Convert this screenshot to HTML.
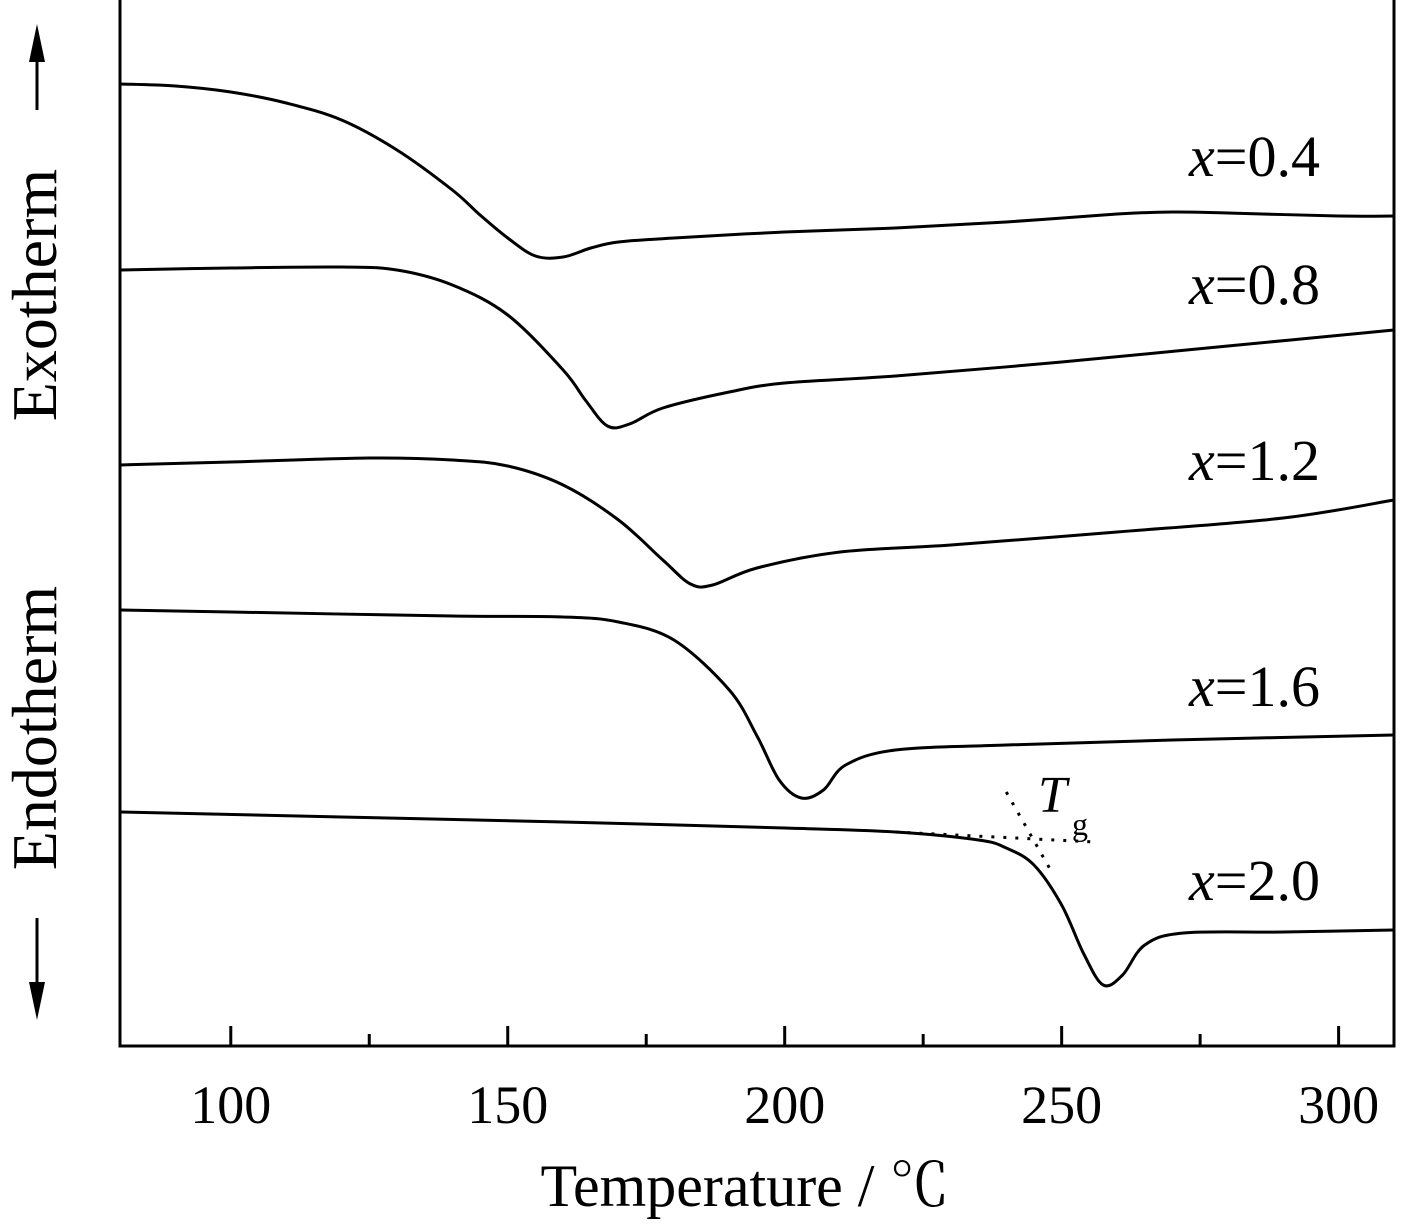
<!DOCTYPE html>
<html><head><meta charset="utf-8"><style>
body{margin:0;background:#fff}
svg text{font-family:"Liberation Serif","Noto Serif CJK SC",serif;fill:#000}
</style></head><body>
<svg id="chart" width="1412" height="1226" viewBox="0 0 1412 1226" xmlns="http://www.w3.org/2000/svg">
<rect x="120" y="-2" width="1274" height="1048" fill="none" stroke="#000" stroke-width="3"/>
<g id="ticks"></g>
<g id="curves"></g>
<g id="labels"></g>
<text x="745" y="1206" font-size="60" text-anchor="middle">Temperature / ℃</text>
<text transform="translate(56,295) rotate(-90)" font-size="64" text-anchor="middle">Exotherm</text>
<text transform="translate(56,728) rotate(-90)" font-size="64" text-anchor="middle">Endotherm</text>
<g><line x1="37" y1="110" x2="37" y2="50" stroke="#000" stroke-width="3"/><polygon points="37,24 29,62 45,62" fill="#000"/></g>
<g><line x1="37" y1="918" x2="37" y2="985" stroke="#000" stroke-width="3"/><polygon points="37,1020 29,982 45,982" fill="#000"/></g>
<g>
<text x="1038" y="812" font-size="52" font-style="italic">T</text>
<text x="1072" y="835" font-size="32">g</text>
</g>
</svg>
<script>
const tempTicks=[100,150,200,250,300];
const minorTicks=[125,175,225,275];
const seriesNames=["x=0.4","x=0.8","x=1.2","x=1.6","x=2.0"];
const labelT=[273,273,273,273,273];
const labelY=[87,74.2,56.6,34,14.6];
const t04=[80,90,100,110,120,130,140,145,150,155,160,165,170,180,200,220,240,260,270,280,300,310];
const v04=[96.2,96,95.4,94.3,92.6,89.6,85.6,83.1,80.8,79,78.9,79.8,80.4,80.8,81.4,81.8,82.4,83.2,83.4,83.3,83,83];
const t08=[80,100,120,130,140,150,160,164,168,172,178,190,200,220,250,280,310];
const v08=[77.6,77.8,77.9,77.6,76.1,73.1,67.6,64.6,62,62.2,63.8,65.4,66.3,67,68.4,70,71.6];
const t12=[80,100,125,140,150,160,170,178,183,187,195,210,230,260,290,310];
const v12=[58.1,58.4,58.8,58.6,58,56.1,52.6,48.6,46.2,46.1,47.8,49.4,50.1,51.4,52.8,54.6];
const t16=[80,100,140,160,170,180,190,195,199,203,207,211,220,240,270,310];
const v16=[43.6,43.4,43,42.9,42.4,40.6,35.6,31,26.6,24.8,25.6,28.1,29.6,30.1,30.6,31.1];
const t20=[80,120,160,200,220,235,240,245,250,254,257.5,261,265,272,290,310];
const v20=[23.4,22.9,22.4,21.8,21.4,20.6,19.8,18.1,14.1,9.2,6.1,7.1,10.1,11.3,11.4,11.6];
const tgLineA_T=[220,256];const tgLineA_V=[21.4,20.4];
const tgLineB_T=[240,248];const tgLineB_V=[25.4,17.6];
const allT=[t04,t08,t12,t16,t20],allV=[v04,v08,v12,v16,v20];
const xs=t=>120+(t-80)*(1274/230);
const ys=v=>1046-v*10;
const NS="http://www.w3.org/2000/svg";
function mk(tag,parent,attrs){const e=document.createElementNS(NS,tag);for(const k in attrs)e.setAttribute(k,attrs[k]);document.getElementById(parent).appendChild(e);return e;}
tempTicks.forEach(t=>{
 const l=mk('line','ticks',{x1:xs(t),x2:xs(t),y1:1046,y2:1026,stroke:'#000','stroke-width':3});
 
 
 const tx=mk('text','ticks',{x:xs(t),y:1123,'font-size':54,'text-anchor':'middle'});
 tx.textContent=t;
 
 
});
minorTicks.forEach(t=>{
 const l=mk('line','ticks',{x1:xs(t),x2:xs(t),y1:1046,y2:1034,stroke:'#000','stroke-width':3});
 
 
});
function smooth(T,V){const p=T.map((t,i)=>[xs(t),ys(V[i])]);let d=`M${p[0][0]},${p[0][1]}`;
 for(let i=0;i<p.length-1;i++){const p0=p[i-1]||p[i],p1=p[i],p2=p[i+1],p3=p[i+2]||p2;
 d+=` C${p1[0]+(p2[0]-p0[0])/6},${p1[1]+(p2[1]-p0[1])/6} ${p2[0]-(p3[0]-p1[0])/6},${p2[1]-(p3[1]-p1[1])/6} ${p2[0]},${p2[1]}`;}return d;}
allT.forEach((T,i)=>{
 const p=mk('path','curves',{d:smooth(T,allV[i]),fill:'none',stroke:'#000','stroke-width':3});
 
 
 const tx=mk('text','labels',{x:xs(labelT[i]),y:ys(labelY[i]),'font-size':58});
 tx.innerHTML='<tspan font-style="italic">x</tspan>'+seriesNames[i].slice(1);
 
 
});
[[tgLineA_T,tgLineA_V],[tgLineB_T,tgLineB_V]].forEach(([T,V])=>{
 const l=mk('line','curves',{x1:xs(T[0]),y1:ys(V[0]),x2:xs(T[1]),y2:ys(V[1]),stroke:'#000','stroke-width':3,'stroke-dasharray':'3,9'});
 
 
});
</script>
</body></html>
